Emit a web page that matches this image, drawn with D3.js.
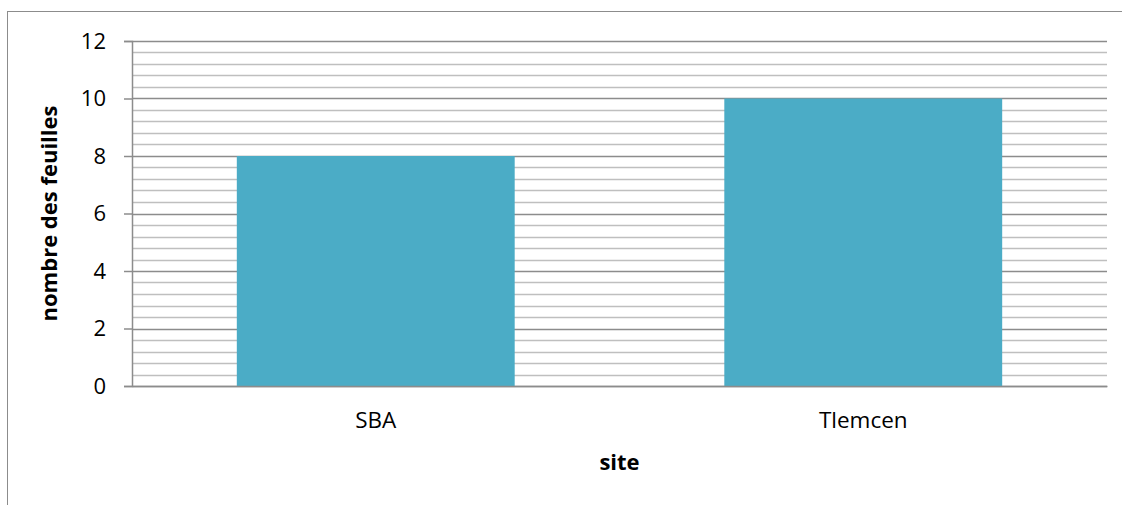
<!DOCTYPE html>
<html>
<head>
<meta charset="UTF-8" />
<title>nombre des feuilles par site</title>
<script src="https://d3js.org/d3.v7.min.js"></script>
<style>
  body { margin: 0; background: #fff; }
  text { font-family: "Open Sans", sans-serif; fill: #000; }
  .y .tick text { font-size: 22px; }
  .x .tick text { font-size: 22.5px; }
  .title { font-size: 22px; font-weight: bold; }
</style>
</head>
<body>
<div id="chart"></div>
<script>
// data
var sites = ["SBA", "Tlemcen"];
var feuilles = [8, 10];
var yTicks = [0, 2, 4, 6, 8, 10, 12];

var W = 1122, H = 505;
var margin = {top: 41, right: 15, bottom: 119, left: 132};
var width = W - margin.left - margin.right,
    height = H - margin.top - margin.bottom;

var svg = d3.select("#chart").append("svg")
  .attr("width", W)
  .attr("height", H);

// outer chart border
svg.append("rect")
  .attr("x", 7.5).attr("y", 11.5)
  .attr("width", W).attr("height", H)
  .attr("fill", "none")
  .attr("stroke", "#8c8c8c")
  .attr("stroke-width", 1);

var g = svg.append("g")
  .attr("transform", "translate(" + margin.left + "," + margin.top + ")");

var x = d3.scaleBand().domain(sites).range([0, width])
  .paddingInner(0.43).paddingOuter(0.215);
var y = d3.scaleLinear().domain([0, 12]).range([height, 0]);

// minor gridlines every 0.4
var minor = d3.range(0, 12.001, 0.4).filter(function(v) {
  return Math.abs(v / 2 - Math.round(v / 2)) > 1e-6;
});
g.append("g").selectAll("line")
  .data(minor).enter().append("line")
  .attr("x1", 0).attr("x2", width)
  .attr("y1", function(d) { return Math.round(y(d)) + 0.5; })
  .attr("y2", function(d) { return Math.round(y(d)) + 0.5; })
  .attr("stroke", "#bfbfbf").attr("stroke-width", 1.5);

// major gridlines
g.append("g").selectAll("line")
  .data(yTicks).enter().append("line")
  .attr("x1", 0).attr("x2", width)
  .attr("y1", function(d) { return Math.round(y(d)) + 0.5; })
  .attr("y2", function(d) { return Math.round(y(d)) + 0.5; })
  .attr("stroke", "#8c8c8c").attr("stroke-width", 1.5);

// bars
g.append("g").selectAll("rect")
  .data(sites).enter().append("rect")
  .attr("x", function(d) { return x(d); })
  .attr("y", function(d, i) { return y(feuilles[i]); })
  .attr("width", x.bandwidth())
  .attr("height", function(d, i) { return y(0) - y(feuilles[i]); })
  .attr("fill", "#4bacc6");

// y axis
var yAxis = g.append("g")
  .attr("class", "y")
  .call(d3.axisLeft(y).tickValues(yTicks).tickSize(8).tickPadding(18).tickFormat(d3.format("d")));
yAxis.select(".domain").attr("stroke", "#8c8c8c").attr("stroke-width", 1.5);
yAxis.selectAll(".tick line").attr("stroke", "#8c8c8c").attr("stroke-width", 1.5);

// x axis
var xAxis = g.append("g")
  .attr("class", "x")
  .attr("transform", "translate(0," + height + ")")
  .call(d3.axisBottom(x).tickSize(0).tickPadding(26));
xAxis.select(".domain").attr("stroke", "#8c8c8c").attr("stroke-width", 1.5);

// axis titles
svg.append("text")
  .attr("class", "title")
  .attr("x", margin.left + width / 2)
  .attr("y", 470)
  .attr("text-anchor", "middle")
  .text("site");

svg.append("text")
  .attr("class", "title")
  .attr("transform", "translate(57," + (margin.top + height / 2) + ") rotate(-90)")
  .attr("text-anchor", "middle")
  .text("nombre des feuilles");
</script>
</body>
</html>
